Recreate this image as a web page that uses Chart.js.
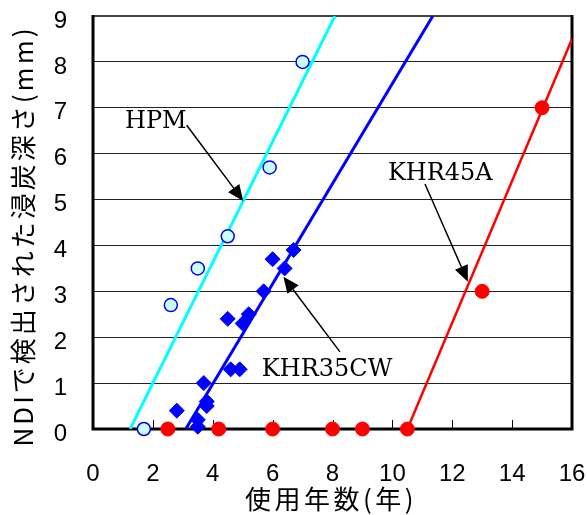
<!DOCTYPE html>
<html>
<head>
<meta charset="utf-8">
<script src="https://cdn.jsdelivr.net/npm/chart.js@4"></script>
<style>
body { margin: 0; background: #fff; }
#wrap { width: 587px; height: 515px; }
</style>
</head>
<body>
<div id="wrap"><canvas id="chart"></canvas></div>
<script>
// HPM (open circles)
const hpmX = [1.7, 2.6, 3.5, 4.5, 5.9, 7.0];
const hpmY = [0, 2.7, 3.5, 4.2, 5.7, 8.0];

// KHR35CW (diamonds)
const khr35X = [6.7, 6.0, 6.4, 5.7, 5.2, 4.5, 5.0, 4.6, 4.9, 3.7, 3.8, 3.8, 2.8, 3.5, 3.5];
const khr35Y = [3.9, 3.7, 3.5, 3.0, 2.5, 2.4, 2.3, 1.3, 1.3, 1.0, 0.6, 0.5, 0.4, 0.2, 0.05];

// KHR45A (filled circles)
const khr45X = [2.5, 4.2, 6.0, 8.0, 9.0, 10.5, 13.0, 15.0];
const khr45Y = [0, 0, 0, 0, 0, 0, 3.0, 7.0];

// fitted lines, start and end
const hpmLineX = [1.24, 8.08];
const hpmLineY = [0, 9];
const khr35LineX = [3.1, 11.35];
const khr35LineY = [0, 9];
const khr45LineX = [10.5, 16];
const khr45LineY = [0, 8.5];

const xTicks = [0, 2, 4, 6, 8, 10, 12, 14, 16];
const yTicks = [0, 1, 2, 3, 4, 5, 6, 7, 8, 9];

const xTitle = '使用年数(年)';
const yTitle = 'NDIで検出された浸炭深さ(mm)';

// callouts: text position and arrow, in data units
const callouts = [
    { text: 'HPM', x: 1.07, y: 6.56, from: [3.13, 6.62], to: [5.02, 4.97] },
    { text: 'KHR45A', x: 9.85, y: 5.42, from: [11.09, 5.34], to: [12.52, 3.21] },
    { text: 'KHR35CW', x: 5.64, y: 1.16, from: [8.25, 1.68], to: [6.36, 3.32] }
];

const pts = (xs, ys) => xs.map((x, i) => ({ x: x, y: ys[i] }));

const frame = {
    id: 'frame',
    beforeDatasetsDraw(chart) {
        const { ctx, chartArea: a, scales: { x } } = chart;
        ctx.save();
        // inward ticks on x axis
        ctx.strokeStyle = '#000';
        ctx.lineWidth = 1;
        xTicks.forEach(v => {
            const px = Math.round(x.getPixelForValue(v)) + 0.5;
            ctx.beginPath();
            ctx.moveTo(px, a.bottom);
            ctx.lineTo(px, a.bottom - 9);
            ctx.stroke();
        });
        ctx.strokeStyle = '#444';
        ctx.lineWidth = 2;
        ctx.beginPath();
        ctx.moveTo(a.left, a.top);
        ctx.lineTo(a.right, a.top);
        ctx.stroke();
        ctx.strokeStyle = '#000';
        ctx.lineWidth = 3;
        ctx.beginPath();
        ctx.moveTo(a.left, a.top - 1);
        ctx.lineTo(a.left, a.bottom);
        ctx.lineTo(a.right, a.bottom);
        ctx.lineTo(a.right, a.top - 1);
        ctx.stroke();
        ctx.restore();
    },
    afterDraw(chart) {
        const { ctx, scales: { x, y } } = chart;
        ctx.save();
        ctx.fillStyle = '#000';
        ctx.strokeStyle = '#000';
        // callouts
        ctx.font = '24px "DejaVu Serif"';
        ctx.textAlign = 'left';
        ctx.textBaseline = 'alphabetic';
        callouts.forEach(c => {
            ctx.fillText(c.text, x.getPixelForValue(c.x), y.getPixelForValue(c.y));
            const x0 = x.getPixelForValue(c.from[0]), y0 = y.getPixelForValue(c.from[1]);
            const x1 = x.getPixelForValue(c.to[0]), y1 = y.getPixelForValue(c.to[1]);
            const ang = Math.atan2(y1 - y0, x1 - x0);
            const len = 16, half = 7;
            const bx = x1 - len * Math.cos(ang), by = y1 - len * Math.sin(ang);
            ctx.lineWidth = 1.5;
            ctx.beginPath();
            ctx.moveTo(x0, y0);
            ctx.lineTo(bx, by);
            ctx.stroke();
            ctx.beginPath();
            ctx.moveTo(x1, y1);
            ctx.lineTo(bx + half * Math.sin(ang), by - half * Math.cos(ang));
            ctx.lineTo(bx - half * Math.sin(ang), by + half * Math.cos(ang));
            ctx.closePath();
            ctx.fill();
        });
        // axis titles
        ctx.font = '26px "Noto Sans CJK JP"';
        ctx.textAlign = 'center';
        ctx.textBaseline = 'middle';
        ctx.letterSpacing = '3.5px';
        ctx.fillText(xTitle, 331, 499);
        ctx.letterSpacing = '3px';
        ctx.translate(23, 236);
        ctx.rotate(-Math.PI / 2);
        ctx.fillText(yTitle, 0, 0);
        ctx.restore();
    }
};

new Chart(document.getElementById('chart'), {
    type: 'scatter',
    data: {
        datasets: [{
            label: 'HPM',
            data: pts(hpmX, hpmY),
            pointStyle: 'circle',
            pointRadius: 6.5,
            pointBackgroundColor: '#ccffff',
            pointBorderColor: '#0000ff',
            pointBorderWidth: 1.5,
            clip: false
        }, {
            label: 'KHR35CW',
            data: pts(khr35X, khr35Y),
            pointStyle: 'rectRot',
            pointRadius: 7.5,
            pointBackgroundColor: '#0000ff',
            pointBorderColor: '#0000ff',
            pointBorderWidth: 1,
            clip: false
        }, {
            label: 'KHR45A',
            data: pts(khr45X, khr45Y),
            pointStyle: 'circle',
            pointRadius: 7,
            pointBackgroundColor: '#ff0000',
            pointBorderColor: '#ff0000',
            pointBorderWidth: 1,
            clip: false
        }, {
            data: pts(hpmLineX, hpmLineY),
            showLine: true,
            pointRadius: 0,
            borderColor: '#00ffff',
            borderWidth: 3
        }, {
            data: pts(khr35LineX, khr35LineY),
            showLine: true,
            pointRadius: 0,
            borderColor: '#0000ff',
            borderWidth: 3
        }, {
            data: pts(khr45LineX, khr45LineY),
            showLine: true,
            pointRadius: 0,
            borderColor: '#ff0000',
            borderWidth: 2.5
        }]
    },
    options: {
        responsive: true,
        maintainAspectRatio: false,
        animation: false,
        layout: { padding: { top: 16, right: 15, left: 0, bottom: 0 } },
        plugins: { legend: { display: false }, tooltip: { enabled: false } },
        scales: {
            x: {
                type: 'linear',
                min: 0,
                max: 16,
                afterFit: s => { s.height = 86; s.paddingLeft = 0; s.paddingRight = 0; },
                afterBuildTicks: s => { s.ticks = xTicks.map(v => ({ value: v })); },
                grid: { display: false },
                border: { display: false },
                ticks: {
                    padding: 23,
                    color: '#000',
                    font: { family: '"Liberation Sans"', size: 24 }
                }
            },
            y: {
                min: 0,
                max: 9,
                afterFit: s => { s.width = 93; s.paddingTop = 0; s.paddingBottom = 0; },
                afterBuildTicks: s => { s.ticks = yTicks.map(v => ({ value: v })); },
                grid: { color: '#222', lineWidth: 1, drawTicks: false },
                border: { display: false },
                ticks: {
                    padding: 26,
                    labelOffset: 5,
                    color: '#000',
                    font: { family: '"Liberation Sans"', size: 24 }
                }
            }
        }
    },
    plugins: [frame]
});
</script>
</body>
</html>
